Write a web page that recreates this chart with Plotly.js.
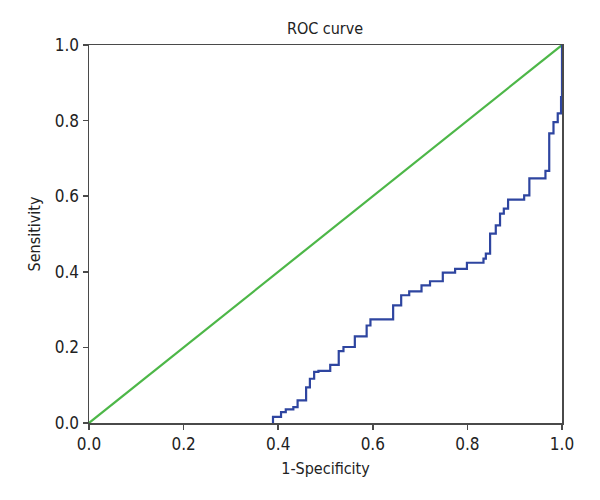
<!DOCTYPE html>
<html>
<head>
<meta charset="utf-8">
<script src="https://cdn.plot.ly/plotly-3.0.1.min.js"></script>
<style>html,body{margin:0;padding:0;background:#fff}#chart{width:600px;height:500px}</style>
</head>
<body>
<div id="chart"></div>
<script>
// ROC curve step vertices (1-Specificity, Sensitivity)
const rocX = [0.389, 0.389, 0.406, 0.416, 0.432, 0.441, 0.459, 0.467, 0.476, 0.485, 0.510, 0.528, 0.538, 0.562, 0.587, 0.595,
              0.643, 0.660, 0.677, 0.703, 0.721, 0.748, 0.774, 0.799, 0.834, 0.839, 0.848, 0.860, 0.869, 0.877, 0.886,
              0.920, 0.931, 0.965, 0.973, 0.982, 0.991, 0.998, 1.000];
const rocY = [0.000, 0.016, 0.029, 0.036, 0.042, 0.060, 0.094, 0.117, 0.135, 0.138, 0.154, 0.190, 0.201, 0.229, 0.258, 0.274,
              0.311, 0.338, 0.348, 0.364, 0.375, 0.398, 0.408, 0.424, 0.435, 0.448, 0.501, 0.523, 0.554, 0.567, 0.591,
              0.602, 0.647, 0.667, 0.766, 0.796, 0.819, 0.862, 1.000];
const refX = [0, 1];
const refY = [0, 1];
const tickVals = [0, 0.2, 0.4, 0.6, 0.8, 1.0];
const tickText = ['0.0', '0.2', '0.4', '0.6', '0.8', '1.0'];

const FONT = '"DejaVu Sans Condensed", "Liberation Sans Narrow", "Liberation Sans", sans-serif';

const traces = [
  {x: refX, y: refY, type: 'scatter', mode: 'lines', line: {color: '#4db748', width: 2.2}, hoverinfo: 'skip'},
  {x: rocX, y: rocY, type: 'scatter', mode: 'lines', line: {color: '#2e45a0', width: 2.2, shape: 'hv'}, hoverinfo: 'skip'}
];

const axisCommon = {
  range: [0, 1],
  tickvals: tickVals,
  ticktext: tickText,
  showgrid: false,
  zeroline: false,
  showline: true,
  linecolor: '#4a4a4a',
  linewidth: 1.5,
  mirror: true,
  ticks: 'outside',
  ticklen: 5,
  tickwidth: 1.5,
  tickcolor: '#4a4a4a',
  tickfont: {family: FONT, size: 17, color: '#222'}
};

const layout = {
  width: 600, height: 500,
  margin: {l: 89, r: 38, t: 45, b: 77},
  paper_bgcolor: '#fff', plot_bgcolor: '#fff',
  showlegend: false,
  title: {text: 'ROC curve', x: 0.5417, xanchor: 'center', y: 0.944, yanchor: 'middle', font: {family: FONT, size: 16, color: '#222'}},
  xaxis: Object.assign({}, axisCommon, {title: {text: '1-Specificity', font: {family: FONT, size: 16, color: '#222'}, standoff: 10}}),
  yaxis: Object.assign({}, axisCommon, {title: {text: 'Sensitivity', font: {family: FONT, size: 16, color: '#222'}, standoff: 10}})
};

Plotly.newPlot('chart', traces, layout, {staticPlot: true, displayModeBar: false});
</script>
</body>
</html>
